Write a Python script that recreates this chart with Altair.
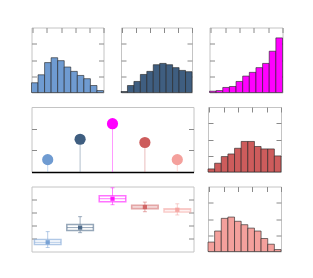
import altair as alt
import pandas as pd

# ---- data ----
BINS = list(range(11))
H1 = [0.60, 1.09, 1.84, 2.14, 1.96, 1.57, 1.30, 1.05, 0.85, 0.43, 0.12]
H2 = [0.06, 0.43, 0.68, 1.11, 1.30, 1.71, 1.79, 1.71, 1.53, 1.36, 1.28]
H3 = [0.08, 0.12, 0.31, 0.37, 0.68, 1.01, 1.24, 1.53, 1.79, 2.54, 3.36]
H5 = [0.19, 0.54, 0.95, 1.11, 1.46, 1.88, 1.88, 1.57, 1.42, 1.42, 0.99]
H7 = [0.58, 1.26, 2.04, 2.12, 1.86, 1.65, 1.44, 1.26, 0.80, 0.45, 0.12]
HIST_XTICKS = [0.15, 2.35, 4.55, 6.7, 8.85, 10.95]
HIST_YTICKS = [1, 2, 3]

CATS = ["A", "B", "C", "D", "E"]
COLORS = ["#6f9bd1", "#3f5e80", "#ff00ff", "#cd5c5c", "#f4a09c"]
LOLLI = [0.57, 1.51, 2.23, 1.36, 0.57]
LOLLI_YTICKS = [1, 2]

BOX_LO = [0.31, 1.45, 3.60, 3.06, 2.81]
BOX_Q1 = [0.54, 1.61, 3.83, 3.29, 3.04]
BOX_MED = [0.71, 1.84, 4.06, 3.42, 3.21]
BOX_Q3 = [0.92, 2.07, 4.29, 3.55, 3.29]
BOX_HI = [1.53, 2.68, 4.90, 3.80, 3.67]
BOX_YTICKS = [1, 2, 3, 4]

H = 65
W1 = 72
W2 = 71
W3 = 73
WIDE_W = 162

TICK_COLOR = "#8a8a8a"


def tick_axis(orient, offset, values):
    return alt.Axis(orient=orient, offset=offset, values=values, labels=False,
                    domain=False, grid=False, ticks=True, tickSize=5,
                    tickColor=TICK_COLOR, title=None)


def hist(vals, color, w):
    df = pd.DataFrame({"b": BINS, "b2": [b + 1 for b in BINS], "v": vals,
                       "z": [0] * len(BINS)})
    base = alt.Chart(df)
    x = alt.X("b:Q", scale=alt.Scale(domain=[0, 11], nice=False, zero=False),
              axis=tick_axis("bottom", -H, HIST_XTICKS))
    ysc = alt.Scale(domain=[0, 4], nice=False)
    bars = base.mark_rect(color=color, stroke="#222222", strokeOpacity=0.6,
                          strokeWidth=1).encode(
        x=x, x2="b2",
        y=alt.Y("v:Q", scale=ysc, axis=tick_axis("right", -w, HIST_YTICKS)),
        y2="z")
    ghost = base.mark_rule(opacity=0).encode(
        y=alt.Y("v:Q", scale=ysc, axis=tick_axis("left", -w, HIST_YTICKS)))
    return alt.layer(bars, ghost).resolve_axis(y="independent").properties(
        width=w, height=H)


# ---- lollipop ----
ldf = pd.DataFrame({"cat": CATS, "v": LOLLI, "color": COLORS, "z": [0] * 5})
lx = alt.X("cat:N", sort=CATS,
           scale=alt.Scale(type="band", paddingInner=0, paddingOuter=0),
           axis=alt.Axis(orient="bottom", domain=True, domainColor="black",
                         domainWidth=1.5, ticks=False, labels=False,
                         grid=False, title=None))
lysc = alt.Scale(domain=[0, 3], nice=False)
stems = alt.Chart(ldf).mark_rule(strokeWidth=1, opacity=0.4).encode(
    x=lx,
    y=alt.Y("v:Q", scale=lysc, axis=tick_axis("right", -WIDE_W, LOLLI_YTICKS)),
    y2="z",
    color=alt.Color("color:N", scale=None))
dots = alt.Chart(ldf).mark_circle(size=125, opacity=1).encode(
    x=lx,
    y=alt.Y("v:Q", scale=lysc, axis=tick_axis("left", -WIDE_W, LOLLI_YTICKS)),
    color=alt.Color("color:N", scale=None))
lolli = alt.layer(stems, dots).resolve_axis(y="independent").properties(
    width=WIDE_W, height=H)

# ---- boxplot ----
bdf = pd.DataFrame({"cat": CATS, "lo": BOX_LO, "q1": BOX_Q1, "med": BOX_MED,
                    "q3": BOX_Q3, "hi": BOX_HI, "color": COLORS})
bx = alt.X("cat:N", sort=CATS,
           scale=alt.Scale(type="band", paddingInner=0, paddingOuter=0),
           axis=None)
bysc = alt.Scale(domain=[0, 5], nice=False)
bbase = alt.Chart(bdf)
col = alt.Color("color:N", scale=None)
whisk = bbase.mark_rule(strokeWidth=1, opacity=0.5).encode(
    x=bx,
    y=alt.Y("lo:Q", scale=bysc, axis=tick_axis("right", -WIDE_W, BOX_YTICKS)),
    y2="hi", color=col)
cap_lo = bbase.mark_tick(size=4, thickness=1, opacity=0.5).encode(
    x=bx, y=alt.Y("lo:Q", scale=bysc, axis=None), color=col)
cap_hi = bbase.mark_tick(size=4, thickness=1, opacity=0.5).encode(
    x=bx, y=alt.Y("hi:Q", scale=bysc, axis=None), color=col)
box = bbase.mark_bar(width=alt.RelativeBandSize(0.82), fill="white",
                     strokeWidth=1.5, strokeOpacity=0.55).encode(
    x=bx,
    y=alt.Y("q1:Q", scale=bysc, axis=tick_axis("left", -WIDE_W, BOX_YTICKS)),
    y2="q3", stroke=alt.Stroke("color:N", scale=None))
med = bbase.mark_tick(size=26, thickness=1, opacity=0.55).encode(
    x=bx, y=alt.Y("med:Q", scale=bysc, axis=None), color=col)
mean = bbase.mark_square(size=18, opacity=0.9).encode(
    x=bx, y=alt.Y("med:Q", scale=bysc, axis=None), color=col)
boxplot = alt.layer(whisk, cap_lo, cap_hi, box, med, mean).resolve_axis(
    y="independent").properties(width=WIDE_W, height=H)

row1 = alt.hconcat(hist(H1, COLORS[0], W1), hist(H2, COLORS[1], W2),
                   hist(H3, COLORS[2], W3), spacing=15.5)
row2 = alt.hconcat(lolli, hist(H5, COLORS[3], W3), spacing=12.5)
row3 = alt.hconcat(boxplot, hist(H7, COLORS[4], W3), spacing=12.5)

chart = alt.vconcat(row1, row2, row3, spacing=12.5).properties(
    padding={"left": 22.5, "top": 18.5, "right": 5, "bottom": 5},
    background="white",
).configure_view(stroke="#c4c4c4", strokeWidth=1)

chart.save("out.html", embed_options={"renderer": "svg", "actions": False})
